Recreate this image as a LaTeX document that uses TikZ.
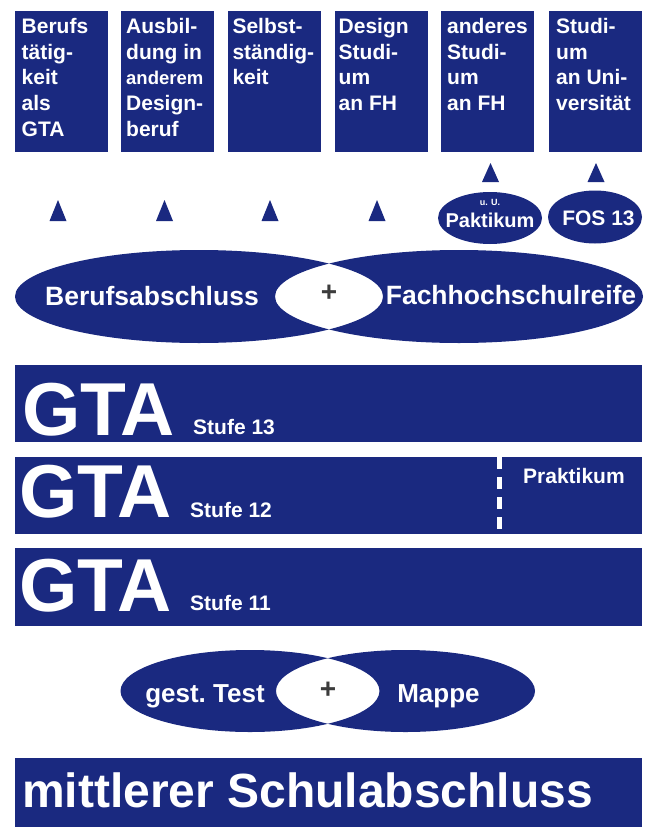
\documentclass[tikz,border=0pt]{standalone}
\usepackage{fontspec}
\setmainfont{Liberation Sans}
\usetikzlibrary{
  shapes.geometric
}
\definecolor{navy}{RGB}{26,41,128}
\definecolor{plusgray}{RGB}{60,60,60}

\begin{document}
\begin{tikzpicture}[
  x=1pt,
  y=-1pt,
  goal/.style={
    draw=none,
    fill=navy,
    rectangle,
    anchor=north west,
    minimum width=93pt,
    minimum height=141pt,
    inner sep=0pt
  },
  goaltext/.style={
    text=white,
    anchor=base west,
    align=left,
    inner sep=0pt,
    font=\fontsize{21}{25.7}\selectfont\bfseries
  },
  bar/.style={
    draw=none,
    fill=navy,
    rectangle,
    anchor=north west,
    minimum width=627pt,
    inner sep=0pt
  },
  gta/.style={
    text=white,
    anchor=base west,
    inner sep=0pt,
    font=\fontsize{75}{75}\selectfont\bfseries
  },
  small/.style={
    text=white,
    anchor=base west,
    inner sep=0pt,
    font=\fontsize{21}{21}\selectfont\bfseries
  },
  pairtext/.style={
    text=white,
    anchor=base,
    inner sep=0pt,
    font=\fontsize{26.5}{26.5}\selectfont\bfseries
  },
  plus/.style={
    text=plusgray,
    inner sep=0pt,
    font=\fontsize{28}{28}\selectfont\bfseries
  },
  oval/.style={
    draw=none,
    fill=navy,
    ellipse,
    inner sep=0pt
  },
  ovaltext/.style={
    text=white,
    anchor=base,
    inner sep=0pt,
    font=\fontsize{20}{20}\selectfont\bfseries
  },
  tip/.style={
    fill=navy
  }
]
\useasboundingbox (0,0) rectangle (649,827);

% Goals (text anchored at the baseline of its last line)
\node[goal] (beruf) at (15,11) {};
\node[goal] (ausbildung) at (121,11) {};
\node[goal] (selbst) at (227.3,11) {};
\node[goal] (design) at (335,11) {};
\node[goal] (anderes) at (441,11) {};
\node[goal] (uni) at (548.3,11) {};

\node[goaltext] (berufT) at (21.5,136.1) {Berufs\\t\"atig-\\keit\\als\\GTA};
\node[goaltext] (ausbildungT) at (126,136.1)
  {Ausbil-\\dung in\\{\fontsize{18.5}{25.7}\selectfont anderem}\\Design-\\beruf};
\node[goaltext] (selbstT) at (232.3,84.7) {Selbst-\\st\"andig-\\keit};
\node[goaltext] (designT) at (338.5,110.4) {Design\\Studi-\\um\\an FH};
\node[goaltext] (anderesT) at (447,110.4) {anderes\\Studi-\\um\\an FH};
\node[goaltext] (uniT) at (556,110.4) {Studi-\\um\\an Uni-\\versit\"at};

% Tips
\fill[tip] (49.5,221) -- (58,200) -- (66.5,221) -- cycle;
\fill[tip] (156,221) -- (164.5,200) -- (173,221) -- cycle;
\fill[tip] (261.5,221) -- (270,200) -- (278.5,221) -- cycle;
\fill[tip] (368.5,221) -- (377,200) -- (385.5,221) -- cycle;
\fill[tip] (482,182) -- (490.5,163) -- (499,182) -- cycle;
\fill[tip] (587.5,182) -- (596,163) -- (604.5,182) -- cycle;

% Small ovals
\node[oval, minimum width=104pt, minimum height=52pt] (praktoval) at (490,218) {};
\node[oval, minimum width=94pt, minimum height=53pt] (fosoval) at (595,217) {};
\node[ovaltext, font=\fontsize{9}{9}\selectfont\bfseries] (uu) at (490,205) {u. U.};
\node[ovaltext] (paktikum) at (490,227) {Paktikum};
\node[ovaltext, font=\fontsize{21}{21}\selectfont\bfseries] (fos) at (598.5,225) {FOS 13};

% Upper pair
\fill[navy, even odd rule]
  (199,296.5) ellipse [x radius=184, y radius=46.5]
  (459,296.5) ellipse [x radius=184, y radius=46.5];
\node[pairtext] (abschluss) at (152,305) {Berufsabschluss};
\node[pairtext] (fhreife) at (511,304) {Fachhochschulreife};
\node[plus] (plusoben) at (329,293) {+};

% GTA levels
\node[bar, minimum height=77pt] (stufe13) at (15,365) {};
\node[bar, minimum height=77pt] (stufe12) at (15,457) {};
\node[bar, minimum height=78pt] (stufe11) at (15,548) {};

\node[gta] (gta13) at (22,435) {GTA};
\node[small] (stufe13T) at (193,434) {Stufe 13};
\node[gta] (gta12) at (19,517) {GTA};
\node[small] (stufe12T) at (190,517) {Stufe 12};
\node[gta] (gta11) at (19,611) {GTA};
\node[small] (stufe11T) at (190,610) {Stufe 11};

% Praktikum part
\draw[white, line width=5pt, dash pattern=on 12pt off 8pt]
  (stufe12.north west -| 499,0) -- (stufe12.south west -| 499,0);
\node[small] (praktikum) at (523,483) {Praktikum};

% Lower pair
\fill[navy, even odd rule]
  (250,691) ellipse [x radius=129.5, y radius=41]
  (405.5,691) ellipse [x radius=129.5, y radius=41];
\node[pairtext, font=\fontsize{26}{26}\selectfont\bfseries] (test) at (205,702) {gest.\ Test};
\node[pairtext, font=\fontsize{26}{26}\selectfont\bfseries] (mappe) at (438.5,702) {Mappe};
\node[plus] (plusunten) at (328,690) {+};

% Base
\node[bar, minimum height=69pt] (msa) at (15,758) {};
\node[gta, font=\fontsize{48}{48}\selectfont\bfseries] (msaT) at (22,807) {mittlerer Schulabschluss};

\end{tikzpicture}
\end{document}
